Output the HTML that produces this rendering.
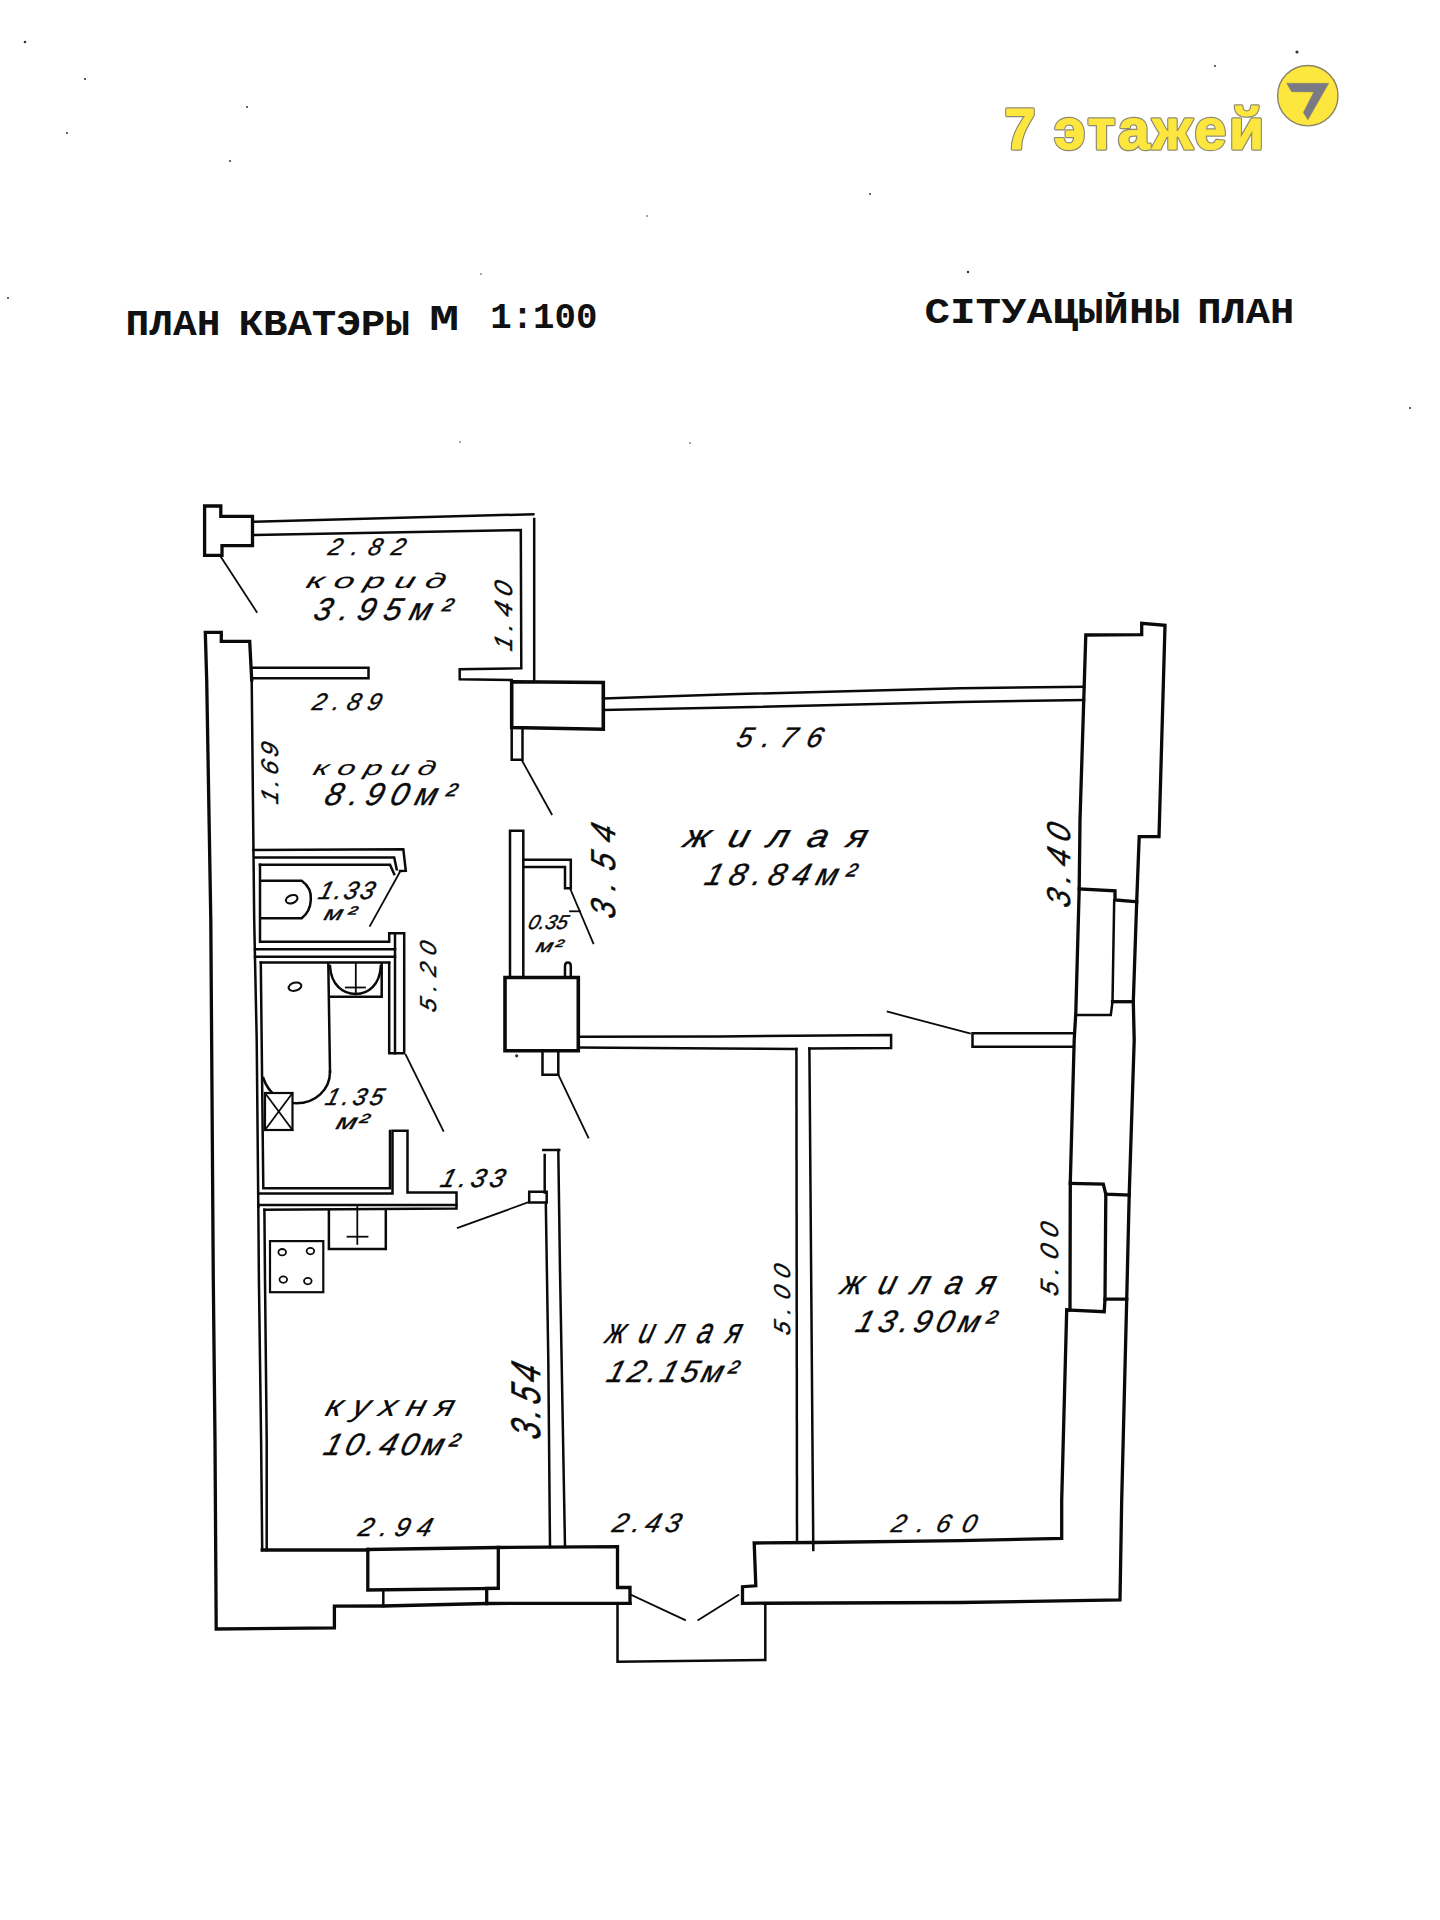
<!DOCTYPE html>
<html><head><meta charset="utf-8"><title>План кватэры</title>
<style>html,body{margin:0;padding:0;background:#fff;}body{width:1440px;height:1920px;overflow:hidden;}svg{display:block;}</style>
</head><body>
<svg width="1440" height="1920" viewBox="0 0 1440 1920">
<rect width="1440" height="1920" fill="#fff"/>

<g font-family="'Liberation Sans', sans-serif" font-weight="bold">
  <g fill="#8E8A72" stroke="#8E8A72" stroke-width="3.6" stroke-linejoin="round">
    <text x="1004.5" y="148.7" font-size="57" textLength="31" lengthAdjust="spacingAndGlyphs">7</text>
    <text x="1054" y="148.7" font-size="57" textLength="210" lengthAdjust="spacing">этажей</text>
  </g>
  <g fill="#FDE63E" stroke="#FDE63E" stroke-width="1.2" stroke-linejoin="round">
    <text x="1004.5" y="148.7" font-size="57" textLength="31" lengthAdjust="spacingAndGlyphs">7</text>
    <text x="1054" y="148.7" font-size="57" textLength="210" lengthAdjust="spacing">этажей</text>
  </g>
</g>
<circle cx="1307.8" cy="95.7" r="30.2" fill="#FDE63E" stroke="#8C8466" stroke-width="1.4"/>
<polygon points="1286.7,83.3 1328.7,83.3 1307.9,119.8 1303.4,112.5 1313.8,92 1291.6,91.7" fill="#7A7A84" stroke="#8C8466" stroke-width="0.6"/>

<g font-family="'Liberation Mono', monospace" font-weight="bold" fill="#111"><text x="125.5" y="334.8" font-size="37.0" textLength="94.9" lengthAdjust="spacingAndGlyphs">ПЛАН</text><text x="238.5" y="334.5" font-size="37.0" textLength="171.2" lengthAdjust="spacingAndGlyphs">КВАТЭРЫ</text><text x="429.3" y="330.0" font-size="37.0" textLength="29.9" lengthAdjust="spacingAndGlyphs">М</text><text x="490.2" y="328.2" font-size="37.0" textLength="107.2" lengthAdjust="spacingAndGlyphs">1:100</text><text x="924.4" y="323.0" font-size="36.0" textLength="255.7" lengthAdjust="spacingAndGlyphs">СІТУАЦЫЙНЫ</text><text x="1197.3" y="323.0" font-size="36.0" textLength="97.1" lengthAdjust="spacingAndGlyphs">ПЛАН</text></g>
<g fill="none" stroke="#0a0a0a" stroke-linejoin="miter" stroke-linecap="square">
<path d="M204.6,506 L220.8,506 L220.8,516.4 L252.5,516.4 L252.5,545.6 L222,545.6 L222,555.3 L204.6,555.3 Z" stroke-width="3.3" />
<path d="M253.9,521.7 L533.3,514.2" stroke-width="2.5" />
<path d="M253.9,535 L520.8,530 L521.3,668.3 L459.7,669.2 L459.7,679.2 L511.7,680" stroke-width="2.5" />
<path d="M534.2,519 L534.2,680" stroke-width="2.5" />
<path d="M220.8,556.7 L256.7,612" stroke-width="1.8" />
<path d="M251.7,680 L249.7,641.4 L221.3,641.4 L221.3,632.4 L205.3,632.4 L206.7,680 L210.8,920 L213.3,1280 L215,1440 L216.2,1629 L334.4,1627.8 L334.4,1606.2 L383.3,1606 L486.7,1603.5 L630,1603.3" stroke-width="3.3" />
<path d="M251.8,667.8 L368.5,667.8 L368.5,678.2 L251.8,678.2" stroke-width="2.5" />
<path d="M251.7,680 L254.2,920 L256.7,1040 L258.3,1206.7" stroke-width="2.5" />
<path d="M511.7,681.7 L603.3,682.5 L603.3,729.2 L511.7,727.5 Z" stroke-width="3.6" />
<path d="M511.7,727.5 L511.7,759.7 L522.5,759.7 L522.5,728" stroke-width="2.5" />
<path d="M521.7,760 L551.7,814.2" stroke-width="1.8" />
<path d="M603.3,698.5 L730,694.2 L960,688.3 L1084,686.7" stroke-width="2.5" />
<path d="M603.3,710 L730,707.5 L960,702 L1084,700" stroke-width="2.5" />
<path d="M1085.8,635 L1080,820 L1079.2,889 L1075.8,1013 L1074.2,1040 L1070.3,1182 L1070,1310 L1066.7,1310 L1061.7,1500 L1061.7,1538.3 L960,1540.6 L813.3,1542.5 L754.2,1543 L755.8,1585.8 L742.5,1586.7 L742.5,1603.3 L960,1602.5 L1120,1600 L1121.7,1500 L1126.7,1300 L1129.2,1195 L1134.2,1040 L1133.3,1001.7 L1136.7,901.7 L1139.2,836.7 L1159,836.7 L1165,625.3 L1141.7,623.3 L1141.7,634.7 L1085.8,635" stroke-width="3.3" />
<path d="M1079.2,889 L1115,890.8 L1115,900 L1136.7,901.7" stroke-width="3.3" />
<path d="M1114.2,900 L1112.5,1001.7 L1110.8,1015 L1075.8,1015" stroke-width="2.5" />
<path d="M1112.5,1001.7 L1133.3,1001.7" stroke-width="3.3" />
<path d="M1070.3,1183.3 L1103.3,1184.2 L1105.8,1194.2 L1129.2,1195" stroke-width="3.3" />
<path d="M1105.8,1194.2 L1105,1299.2 L1126.7,1299.2" stroke-width="3.3" />
<path d="M1105,1299.2 L1104.2,1311.7 L1066.7,1310" stroke-width="3.3" />
<path d="M367.8,1549.5 L498.3,1547.5 L617.5,1546.7 L617.5,1587.5 L630,1587.5 L630,1603.3" stroke-width="3.3" />
<path d="M367.8,1549.5 L367.8,1590 L498.3,1588.3" stroke-width="3.3" />
<path d="M498.3,1547.5 L498.3,1588.3 L486.7,1588.3 L486.7,1603.5" stroke-width="3.3" />
<path d="M383.3,1590 L383.3,1606" stroke-width="2.5" />
<path d="M262.2,1550 L367.8,1550" stroke-width="3.3" />
<path d="M258.3,1205 L258.9,1280 L261.1,1440 L262.2,1550" stroke-width="2.5" />
<path d="M264.4,1209.8 L265,1280 L266.7,1440 L266.7,1550" stroke-width="2.5" />
<path d="M617.5,1603.3 L617.5,1661.7 L765.3,1660 L765.3,1603.3" stroke-width="2.5" />
<path d="M630,1594.2 L685,1620" stroke-width="1.8" />
<path d="M698.3,1620 L738.3,1595" stroke-width="1.8" />
<path d="M543.3,1150 L559.2,1150" stroke-width="2.5" />
<path d="M544.7,1155 L544.7,1192.5" stroke-width="2.5" />
<path d="M529.2,1191.7 L546.7,1191.7 L546.7,1202.5 L529.2,1202.5 Z" stroke-width="2.5" />
<path d="M545.8,1202.5 L548.3,1360 L550,1547" stroke-width="2.5" />
<path d="M558.3,1150 L560,1270 L565,1547" stroke-width="2.5" />
<path d="M529.2,1202 L457.8,1227.8" stroke-width="1.8" />
<path d="M796.4,1049 L797,1542.5" stroke-width="2.5" />
<path d="M809.4,1048.4 L813.3,1550" stroke-width="2.5" />
<path d="M578.3,1036.7 L720,1036.4 L891.1,1035 L891.1,1048 L809.4,1048.4" stroke-width="2.5" />
<path d="M796.4,1049 L720,1048.5 L578.3,1047.5" stroke-width="2.5" />
<path d="M1073,1033.3 L972.5,1033.3 L972.5,1046.7 L1073,1046.7" stroke-width="2.5" />
<path d="M887.6,1011.7 L969.9,1033.5" stroke-width="1.8" />
<path d="M510,977.5 L510,830.8 L523.3,830.8 L523.3,977" stroke-width="2.5" />
<path d="M523.3,859.7 L570.8,859.7 L570.8,888.3 L565,888.3 L565,867 L523.3,867" stroke-width="2.5" />
<path d="M570,888.3 L593.3,943.3" stroke-width="1.8" />
<path d="M570,911.3 L580,911.3" stroke-width="1.8" />
<path d="M565,977 L565,966 Q565,962.5 567.9,962.5 Q570.8,962.5 570.8,966 L570.8,977" stroke-width="2.5" />
<path d="M505,977.5 L578.3,977.5 L578.3,1050.8 L505,1050.8 Z" stroke-width="3.6" />
<path d="M542.5,1051 L542.5,1074.7 L558.3,1074.7 L558.3,1051" stroke-width="2.5" />
<path d="M558.3,1074.7 L588.3,1137.5" stroke-width="1.8" />
<path d="M253.3,850 L403.3,849.2 L405.8,870.8 L400,871" stroke-width="2.5" />
<path d="M255,857.5 L394.2,857.5 L396.7,869.2" stroke-width="2.5" />
<path d="M260,864.7 L390,864.7 L394.2,874.2" stroke-width="2.5" />
<path d="M260,864.7 L260,941.7 L389.2,941.7 L389.2,933.3 L404.2,933.3 L404.2,1053.3 L389.2,1053.3 L389.2,963" stroke-width="2.5" />
<path d="M395,935 L395,1053.3" stroke-width="2.5" />
<path d="M255,949.2 L395,949.2" stroke-width="2.5" />
<path d="M255,956.7 L395,956.7" stroke-width="2.5" />
<path d="M260.8,962.5 L389.2,962.5" stroke-width="2.5" />
<path d="M400,871.7 L370,925.8" stroke-width="1.8" />
<path d="M261,880.8 L301.7,880.8 C309,886 311.5,893 310.8,900 C310.5,908 307,914 301.7,918.3 L261,918.3" stroke-width="2.5" fill="none"/>
<path d="M260.8,962.5 L263.3,1188.3 L390,1188.3 L390,1131" stroke-width="2.5" />
<path d="M258.3,1193.6 L392.5,1193.6 L392.5,1130.8 L407.5,1130.8 L407.5,1192.5 L456.5,1192.5 L456.5,1208.5 L264.4,1209.8" stroke-width="2.5" />
<path d="M258.3,1205 L456.5,1205" stroke-width="2.5" />
<path d="M405.8,1055 L443.3,1130.8" stroke-width="1.8" />
<path d="M328.3,964 L330,1071.7" stroke-width="2.5" />
<path d="M330,996.7 L381.7,996.7 L381.7,964" stroke-width="2.5" />
<path d="M330,966 C331,985 343,994 355.8,994 C368,994 380,985 380.8,966" stroke-width="2.5" fill="none"/>
<path d="M355.8,964 L355.8,994" stroke-width="1.8" />
<path d="M345.8,987.5 L365,987.5" stroke-width="1.8" />
<path d="M330,1071.7 C330,1090 315,1103.3 296.5,1103.3 C280,1103.3 268,1092 263.3,1078" stroke-width="2.5" fill="none"/>
<rect x="265" y="1093" width="27.5" height="37" fill="#fff" stroke-width="2.2"/>
<path d="M265,1093 L292.5,1130" stroke-width="1.8" />
<path d="M292.5,1093 L265,1130" stroke-width="1.8" />
<path d="M328.9,1210 L328.9,1248.9 L385.8,1248.9 L385.8,1209.5" stroke-width="2.5" />
<path d="M357.3,1205.6 L357.3,1243.9" stroke-width="1.8" />
<path d="M347.5,1236.7 L367.5,1236.7" stroke-width="1.8" />
<rect x="270" y="1241.1" width="53.3" height="51.1" stroke-width="2.2"/>
<ellipse cx="282.2" cy="1252.2" rx="3.8" ry="3.2" stroke-width="1.8"/>
<ellipse cx="310.4" cy="1251.1" rx="3.8" ry="3.2" stroke-width="1.8"/>
<ellipse cx="283.3" cy="1279.6" rx="3.8" ry="3.2" stroke-width="1.8"/>
<ellipse cx="307.8" cy="1281.1" rx="3.8" ry="3.2" stroke-width="1.8"/>
<ellipse cx="291.7" cy="899.2" rx="6" ry="4" transform="rotate(-20 291.7 899.2)" stroke-width="2"/>
<ellipse cx="295" cy="986.7" rx="6.5" ry="4" transform="rotate(-15 295 986.7)" stroke-width="2"/>
<circle cx="25" cy="42" r="1.3" fill="#333" stroke="none"/>
<circle cx="85" cy="79" r="1.1" fill="#333" stroke="none"/>
<circle cx="247" cy="107" r="1" fill="#333" stroke="none"/>
<circle cx="67" cy="133" r="1" fill="#333" stroke="none"/>
<circle cx="230" cy="161" r="1" fill="#333" stroke="none"/>
<circle cx="8" cy="298" r="1" fill="#333" stroke="none"/>
<circle cx="1297" cy="52" r="1.6" fill="#333" stroke="none"/>
<circle cx="1215" cy="66" r="1" fill="#333" stroke="none"/>
<circle cx="870" cy="194" r="1" fill="#333" stroke="none"/>
<circle cx="968" cy="272" r="1.2" fill="#333" stroke="none"/>
<circle cx="1410" cy="408" r="1" fill="#333" stroke="none"/>
<circle cx="481" cy="274" r="0.8" fill="#333" stroke="none"/>
<circle cx="647" cy="216" r="0.8" fill="#333" stroke="none"/>
<circle cx="516.7" cy="1055.8" r="1.6" fill="#333" stroke="none"/>
<circle cx="460" cy="442" r="0.8" fill="#333" stroke="none"/>
<circle cx="690" cy="443" r="0.8" fill="#333" stroke="none"/>
</g>
<g font-family="'Liberation Sans', sans-serif" font-style="italic" fill="#0a0a0a" stroke="#0a0a0a" stroke-width="0.4">
<text transform="translate(327.0,555.4) skewX(-16)" font-size="24.0" textLength="76.4" lengthAdjust="spacing" xml:space="preserve">2.82</text>
<text transform="translate(305.0,588.2) skewX(-16)" font-size="21.1" textLength="138.9" lengthAdjust="spacingAndGlyphs" stroke-width="0.15" xml:space="preserve">к о р и д</text>
<text transform="translate(312.0,620.0) skewX(-16)" font-size="31.5" textLength="136.5" lengthAdjust="spacing" xml:space="preserve">3.95м²</text>
<text transform="translate(512.1,652.0) rotate(-90) skewX(-16)" font-size="25.0" textLength="68.4" lengthAdjust="spacing" xml:space="preserve">1.40</text>
<text transform="translate(311.0,710.4) skewX(-16)" font-size="24.0" textLength="68.4" lengthAdjust="spacing" xml:space="preserve">2.89</text>
<text transform="translate(278.4,805.0) rotate(-90) skewX(-16)" font-size="24.0" textLength="60.3" lengthAdjust="spacing" xml:space="preserve">1.69</text>
<text transform="translate(312.0,774.9) skewX(-16)" font-size="20.4" textLength="122.1" lengthAdjust="spacingAndGlyphs" stroke-width="0.15" xml:space="preserve">к о р и д</text>
<text transform="translate(323.0,805.4) skewX(-16)" font-size="31.5" textLength="129.5" lengthAdjust="spacing" xml:space="preserve">8.90м²</text>
<text transform="translate(317.0,898.7) skewX(-16)" font-size="25.0" textLength="55.4" lengthAdjust="spacing" xml:space="preserve">1.33</text>
<text transform="translate(323.0,919.8) skewX(-16) scale(1.35,1.0)" font-size="19.8" textLength="23.3" lengthAdjust="spacing" xml:space="preserve">м²</text>
<text transform="translate(527.0,929.0) skewX(-16)" font-size="20.0" textLength="39.4" lengthAdjust="spacing" xml:space="preserve">0.35</text>
<text transform="translate(535.0,952.0) skewX(-16) scale(1.35,1.0)" font-size="18.0" textLength="19.3" lengthAdjust="spacing" xml:space="preserve">м²</text>
<text transform="translate(614.6,920.0) rotate(-90) skewX(-16) scale(1.0,1.15)" font-size="30.0" textLength="92.5" lengthAdjust="spacing" xml:space="preserve">3.54</text>
<text transform="translate(735.0,746.9) skewX(-16)" font-size="28.0" textLength="85.3" lengthAdjust="spacing" xml:space="preserve">5.76</text>
<text transform="translate(682.0,846.8) skewX(-16)" font-size="32.0" textLength="182.6" lengthAdjust="spacingAndGlyphs" xml:space="preserve">ж и л а я</text>
<text transform="translate(703.0,885.2) skewX(-16)" font-size="31.0" textLength="149.6" lengthAdjust="spacing" xml:space="preserve">18.84м²</text>
<text transform="translate(1069.8,909.0) rotate(-90) skewX(-16) scale(1.0,1.1)" font-size="30.0" textLength="82.4" lengthAdjust="spacing" xml:space="preserve">3.40</text>
<text transform="translate(436.4,1013.0) rotate(-90) skewX(-16)" font-size="23.0" textLength="69.3" lengthAdjust="spacing" xml:space="preserve">5.20</text>
<text transform="translate(324.0,1104.8) skewX(-16)" font-size="24.0" textLength="57.5" lengthAdjust="spacing" xml:space="preserve">1.35</text>
<text transform="translate(335.0,1128.5) skewX(-16) scale(1.35,1.0)" font-size="22.0" textLength="23.3" lengthAdjust="spacing" xml:space="preserve">м²</text>
<text transform="translate(439.0,1187.0) skewX(-16)" font-size="26.0" textLength="63.4" lengthAdjust="spacing" xml:space="preserve">1.33</text>
<text transform="translate(604.0,1342.5) skewX(-16)" font-size="35.8" textLength="134.6" lengthAdjust="spacingAndGlyphs" xml:space="preserve">ж и л а я</text>
<text transform="translate(605.0,1382.3) skewX(-16)" font-size="31.0" textLength="129.6" lengthAdjust="spacing" xml:space="preserve">12.15м²</text>
<text transform="translate(790.4,1336.0) rotate(-90) skewX(-16)" font-size="23.0" textLength="69.2" lengthAdjust="spacing" xml:space="preserve">5.00</text>
<text transform="translate(839.0,1293.9) skewX(-16)" font-size="33.6" textLength="153.7" lengthAdjust="spacingAndGlyphs" xml:space="preserve">ж и л а я</text>
<text transform="translate(854.0,1331.6) skewX(-16)" font-size="31.0" textLength="138.7" lengthAdjust="spacing" xml:space="preserve">13.90м²</text>
<text transform="translate(1058.2,1297.0) rotate(-90) skewX(-16)" font-size="25.0" textLength="72.2" lengthAdjust="spacing" xml:space="preserve">5.00</text>
<text transform="translate(540.0,1441.0) rotate(-90) skewX(-16) scale(1.0,1.38)" font-size="30.0" textLength="73.5" lengthAdjust="spacing" xml:space="preserve">3.54</text>
<text transform="translate(324.0,1415.7) skewX(-16)" font-size="30.0" textLength="128.0" lengthAdjust="spacingAndGlyphs" stroke-width="0.15" xml:space="preserve">к у х н я</text>
<text transform="translate(322.0,1454.8) skewX(-16)" font-size="31.0" textLength="133.7" lengthAdjust="spacing" xml:space="preserve">10.40м²</text>
<text transform="translate(357.0,1536.0) skewX(-16)" font-size="26.0" textLength="72.6" lengthAdjust="spacing" xml:space="preserve">2.94</text>
<text transform="translate(611.0,1532.0) skewX(-16)" font-size="27.0" textLength="67.5" lengthAdjust="spacing" xml:space="preserve">2.43</text>
<text transform="translate(890.0,1532.4) skewX(-16)" font-size="25.0" textLength="84.4" lengthAdjust="spacing" xml:space="preserve">2.60</text>
</g>
</svg>
</body></html>
